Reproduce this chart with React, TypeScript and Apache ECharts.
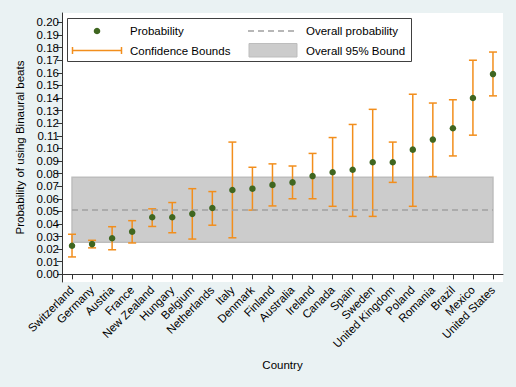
import React, { useEffect, useRef } from "react";
import * as echarts from "echarts";

const countries = [
  "Switzerland", "Germany", "Austria", "France", "New Zealand", "Hungary",
  "Belgium", "Netherlands", "Italy", "Denmark", "Finland", "Australia",
  "Ireland", "Canada", "Spain", "Sweden", "United Kingdom", "Poland",
  "Romania", "Brazil", "Mexico", "United States",
];
const probability = [
  0.0227, 0.024, 0.0286, 0.0339, 0.0453, 0.0453, 0.048, 0.0527, 0.067, 0.068,
  0.071, 0.073, 0.078, 0.081, 0.083, 0.089, 0.089, 0.099, 0.107, 0.116, 0.140, 0.159,
];
const lowerBound = [
  0.0138, 0.021, 0.0195, 0.0249, 0.038, 0.033, 0.028, 0.039, 0.029, 0.051,
  0.0543, 0.060, 0.060, 0.054, 0.046, 0.046, 0.073, 0.054, 0.0776, 0.094, 0.1105, 0.1417,
];
const upperBound = [
  0.0318, 0.027, 0.0378, 0.0426, 0.052, 0.057, 0.068, 0.0657, 0.105, 0.085,
  0.0877, 0.086, 0.096, 0.1086, 0.119, 0.131, 0.105, 0.143, 0.136, 0.1386, 0.170, 0.1765,
];
const overallProbability = 0.0513;
const overallLower = 0.0255;
const overallUpper = 0.077;
const yTicks = [
  0, 0.01, 0.02, 0.03, 0.04, 0.05, 0.06, 0.07, 0.08, 0.09, 0.1,
  0.11, 0.12, 0.13, 0.14, 0.15, 0.16, 0.17, 0.18, 0.19, 0.2,
];
const legendLabels = ["Probability", "Confidence Bounds", "Overall probability", "Overall 95% Bound"];

const FONT = "'Liberation Sans', Arial, sans-serif";
const GREEN = "#3F6620";
const ORANGE = "#F28E1C";

export default function App() {
  const ref = useRef<HTMLDivElement>(null);
  useEffect(() => {
    if (!ref.current) return;
    const chart = echarts.init(ref.current, null, { renderer: "svg" });
    const errData = countries.map((c, i) => [i, lowerBound[i], upperBound[i]]);
    chart.setOption({
      animation: false,
      backgroundColor: "#EAF2F3",
      textStyle: { fontFamily: FONT },
      grid: {
        left: 62, right: 13, top: 13, bottom: 105,
        show: true, backgroundColor: "#FFFFFF", borderWidth: 0,
      },
      xAxis: {
        type: "category",
        data: countries,
        boundaryGap: true,
        name: "Country",
        nameLocation: "middle",
        nameGap: 77,
        nameTextStyle: { fontSize: 11.5, color: "#000", fontFamily: FONT },
        axisLine: { show: true, lineStyle: { color: "#333", width: 1 } },
        axisTick: { show: true, alignWithLabel: true, length: 5, lineStyle: { color: "#333" } },
        axisLabel: { interval: 0, rotate: 45, fontSize: 11.5, color: "#000", margin: 6, fontFamily: FONT },
        splitLine: { show: false },
      },
      yAxis: {
        type: "value",
        min: -0.0061,
        max: 0.2075,
        name: "Probability of using Binaural beats",
        nameLocation: "middle",
        nameRotate: 90,
        nameGap: 36,
        nameTextStyle: { fontSize: 11.5, color: "#000", fontFamily: FONT },
        axisLine: { show: true, lineStyle: { color: "#333", width: 1 } },
        axisTick: { show: true, length: 5, customValues: yTicks, lineStyle: { color: "#333" } },
        axisLabel: {
          customValues: yTicks,
          formatter: (v: number) => v.toFixed(2),
          fontSize: 11.5, color: "#000", margin: 3, fontFamily: FONT,
        },
        splitLine: { show: false },
      },
      series: [
        {
          type: "line",
          data: [],
          markArea: {
            silent: true,
            itemStyle: { color: "#CCCCCC", borderColor: "#BDBDBD", borderWidth: 1.5 },
            data: [[
              { xAxis: countries[0], yAxis: overallUpper },
              { xAxis: countries[countries.length - 1], yAxis: overallLower },
            ]],
          },
          markLine: {
            silent: true,
            symbol: "none",
            label: { show: false },
            lineStyle: { color: "#A0A0A0", type: [6, 4], width: 1.5 },
            data: [[
              { coord: [countries[0], overallProbability] },
              { coord: [countries[countries.length - 1], overallProbability] },
            ]],
          },
        },
        {
          type: "custom",
          data: errData,
          renderItem: (params: any, api: any) => {
            const x = api.value(0);
            const lo = api.coord([x, api.value(1)]);
            const hi = api.coord([x, api.value(2)]);
            const hw = 4;
            const style = { stroke: ORANGE, lineWidth: 1.5, fill: "none" };
            return {
              type: "group",
              children: [
                { type: "line", shape: { x1: lo[0], y1: lo[1], x2: hi[0], y2: hi[1] }, style },
                { type: "line", shape: { x1: lo[0] - hw, y1: lo[1], x2: lo[0] + hw, y2: lo[1] }, style },
                { type: "line", shape: { x1: hi[0] - hw, y1: hi[1], x2: hi[0] + hw, y2: hi[1] }, style },
              ],
            };
          },
        },
        {
          type: "scatter",
          data: probability.map((p, i) => [i, p]),
          symbol: "circle",
          symbolSize: 6.5,
          itemStyle: { color: GREEN, opacity: 1 },
          z: 5,
        },
      ],
      graphic: [
        {
          type: "rect",
          shape: { x: 67.5, y: 18.5, width: 344, height: 43 },
          style: { fill: "#FFFFFF", stroke: "#404040", lineWidth: 1 },
          z: 10,
        },
        { type: "circle", shape: { cx: 97, cy: 31, r: 3.3 }, style: { fill: GREEN }, z: 11 },
        {
          type: "text", x: 130, y: 31, z: 11,
          style: { text: legendLabels[0], fontSize: 11.5, fontFamily: FONT, fill: "#000", verticalAlign: "middle" },
        },
        { type: "line", shape: { x1: 72, y1: 50.5, x2: 122, y2: 50.5 }, style: { stroke: ORANGE, lineWidth: 1.5 }, z: 11 },
        { type: "line", shape: { x1: 72.5, y1: 47, x2: 72.5, y2: 54 }, style: { stroke: ORANGE, lineWidth: 1.5 }, z: 11 },
        { type: "line", shape: { x1: 121.5, y1: 47, x2: 121.5, y2: 54 }, style: { stroke: ORANGE, lineWidth: 1.5 }, z: 11 },
        {
          type: "text", x: 130, y: 50.5, z: 11,
          style: { text: legendLabels[1], fontSize: 11.5, fontFamily: FONT, fill: "#000", verticalAlign: "middle" },
        },
        {
          type: "line", shape: { x1: 248, y1: 31, x2: 298, y2: 31 },
          style: { stroke: "#A0A0A0", lineWidth: 1.5, lineDash: [6, 4] }, z: 11,
        },
        {
          type: "text", x: 306, y: 31, z: 11,
          style: { text: legendLabels[2], fontSize: 11.5, fontFamily: FONT, fill: "#000", verticalAlign: "middle" },
        },
        {
          type: "rect", shape: { x: 249, y: 43.5, width: 48, height: 13.5 },
          style: { fill: "#CCCCCC", stroke: "#BDBDBD", lineWidth: 1 }, z: 11,
        },
        {
          type: "text", x: 306, y: 50.5, z: 11,
          style: { text: legendLabels[3], fontSize: 11.5, fontFamily: FONT, fill: "#000", verticalAlign: "middle" },
        },
      ],
    });
    return () => chart.dispose();
  }, []);
  return (
    <div
      ref={ref}
      style={{ position: "fixed", left: 0, top: 0, width: 516, height: 387 }}
    />
  );
}
